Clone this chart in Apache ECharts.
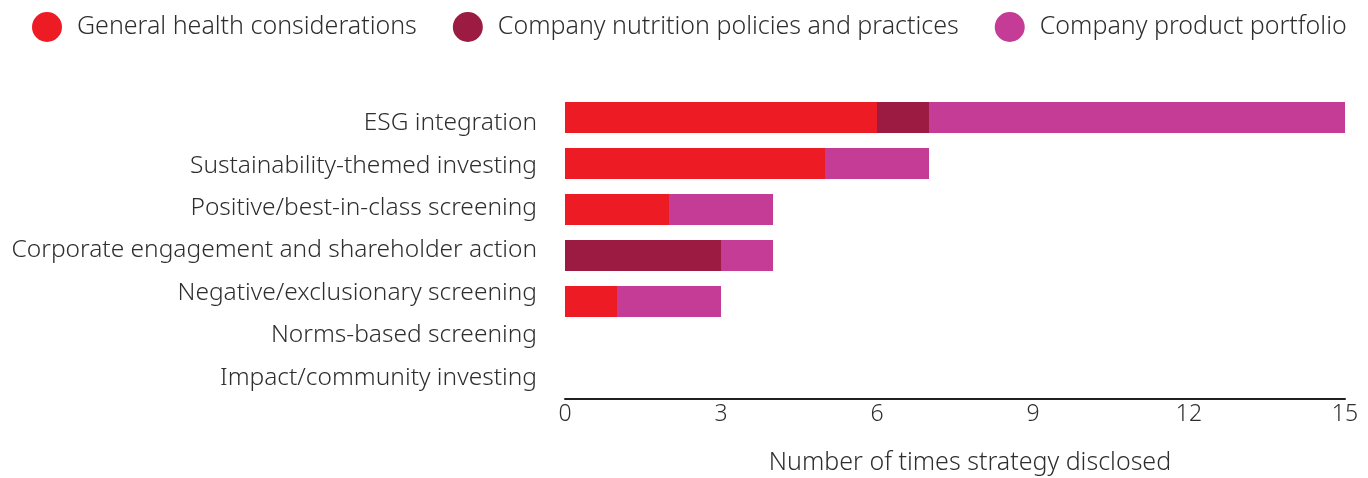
<!DOCTYPE html>
<html>
<head>
<meta charset="utf-8">
<script src="https://cdn.jsdelivr.net/npm/echarts@6/dist/echarts.min.js"></script>
<style>
  html, body { margin: 0; padding: 0; background: #fff; }
  #chart { width: 1368px; height: 478px; }
</style>
</head>
<body>
<div id="chart"></div>
<script type="text/javascript">
  var categories = [
    'ESG integration',
    'Sustainability-themed investing',
    'Positive/best-in-class screening',
    'Corporate engagement and shareholder action',
    'Negative/exclusionary screening',
    'Norms-based screening',
    'Impact/community investing'
  ];
  var generalHealth = [6, 5, 2, 0, 1, 0, 0];
  var nutritionPolicies = [1, 0, 0, 3, 0, 0, 0];
  var productPortfolio = [8, 2, 2, 1, 2, 0, 0];
  var xTicks = { min: 0, max: 15, interval: 3 };

  var font = 'Noto Sans';
  var textColor = '#2e2e2e';

  var myChart = echarts.init(document.getElementById('chart'));
  var option = {
    animation: false,
    textStyle: { fontFamily: font, color: textColor },
    legend: {
      left: 27,
      top: 7,
      icon: 'circle',
      itemWidth: 30,
      itemHeight: 30,
      itemGap: 36,
      textStyle: { fontFamily: font, fontSize: 25, color: textColor, fontWeight: 300, padding: [0, 0, 0, 10] },
      data: ['General health considerations', 'Company nutrition policies and practices', 'Company product portfolio']
    },
    grid: [
      // labels + visible x axis
      { left: 565, right: 23, top: 102, height: 297, outerBoundsMode: 'none' },
      // bars
      { left: 565, right: 23, top: 94.5, height: 322, outerBoundsMode: 'none' }
    ],
    xAxis: [
      {
        gridIndex: 0,
        type: 'value',
        min: xTicks.min, max: xTicks.max, interval: xTicks.interval,
        name: 'Number of times strategy disclosed',
        nameLocation: 'middle',
        nameGap: 51,
        nameTextStyle: { fontFamily: font, fontSize: 25, color: textColor, fontWeight: 300, padding: [0, 0, 0, 30] },
        axisLine: { show: true, lineStyle: { color: '#231f20', width: 2 } },
        axisTick: { show: false },
        splitLine: { show: false },
        axisLabel: { fontFamily: font, fontSize: 23, color: textColor, fontWeight: 300, margin: 4 }
      },
      {
        gridIndex: 1,
        type: 'value',
        min: xTicks.min, max: xTicks.max,
        show: false,
        splitLine: { show: false }
      }
    ],
    yAxis: [
      {
        gridIndex: 0,
        type: 'category',
        inverse: true,
        data: categories,
        axisLine: { show: false },
        axisTick: { show: false },
        axisLabel: { fontFamily: font, fontSize: 24.5, color: textColor, fontWeight: 300, margin: 28 }
      },
      {
        gridIndex: 1,
        type: 'category',
        inverse: true,
        data: categories,
        show: false
      }
    ],
    series: [
      {
        name: 'General health considerations',
        type: 'bar', stack: 'total', xAxisIndex: 1, yAxisIndex: 1,
        barWidth: 31,
        itemStyle: { color: '#ed1c24' },
        data: generalHealth
      },
      {
        name: 'Company nutrition policies and practices',
        type: 'bar', stack: 'total', xAxisIndex: 1, yAxisIndex: 1,
        barWidth: 31,
        itemStyle: { color: '#9b1b42' },
        data: nutritionPolicies
      },
      {
        name: 'Company product portfolio',
        type: 'bar', stack: 'total', xAxisIndex: 1, yAxisIndex: 1,
        barWidth: 31,
        itemStyle: { color: '#c43c96' },
        data: productPortfolio
      }
    ]
  };
  myChart.setOption(option);
  window.addEventListener('resize', function () {
    myChart.resize();
  });
</script>
</body>
</html>
